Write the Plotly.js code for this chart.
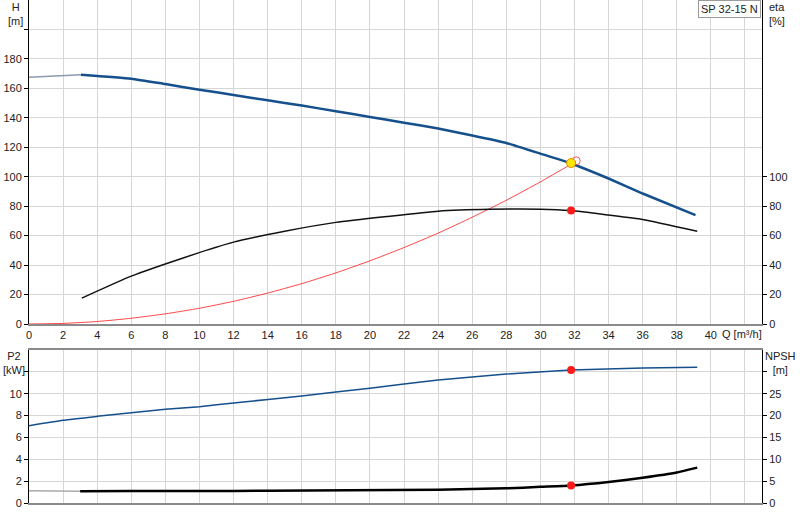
<!DOCTYPE html>
<html>
<head>
<meta charset="utf-8">
<script src="https://cdn.plot.ly/plotly-3.0.1.min.js"></script>
<style>html,body{margin:0;padding:0;background:#fff;}#chart{width:800px;height:520px;}</style>
</head>
<body>
<div id="chart"></div>
<script>
// ---- data ----
const qHead = [0, 3.05, 6, 8, 10, 12, 14, 16, 18, 20, 22, 24, 26, 28, 30, 31.8, 34, 36, 39.1];
const head  = [167.5, 169.3, 166.6, 162.9, 159.1, 155.5, 151.9, 148.3, 144.5, 140.6, 136.7, 132.7, 128, 122.9, 115.7, 109, 98.8, 88.6, 73.9];

const qEta = [3.1, 6, 9, 12, 15, 18, 21, 24, 27, 30, 31.8, 34, 36, 39.2];
const eta  = [17.6, 32.5, 44.7, 55.6, 63, 69, 73, 76.6, 77.9, 78, 77, 74, 71, 63];

const qSys = [0, 2, 4, 6, 8, 10, 12, 14, 16, 18, 20, 22, 24, 26, 28, 30, 32.1];
const sysH = [0, 0.4, 1.7, 3.9, 6.9, 10.7, 15.4, 21, 27.4, 34.7, 42.9, 51.9, 61.7, 72.5, 84, 96.5, 110.5];

const qP2 = [0, 2, 4, 6, 8, 10, 12, 16, 20, 24, 28, 31.8, 36, 39.2];
const p2  = [7.07, 7.57, 7.93, 8.26, 8.57, 8.81, 9.15, 9.8, 10.5, 11.25, 11.8, 12.17, 12.35, 12.42];

const qNpsh = [3, 6, 10, 14, 18.8, 24, 28, 30, 31.8, 34, 36, 38, 39.2];
const npsh  = [2.7, 2.72, 2.75, 2.8, 2.9, 3.05, 3.35, 3.7, 4.0, 4.8, 5.8, 7.0, 8.1];

const dutyQ = 31.8, dutyH = 109.3, dutyEta = 77, dutyP2 = 12.17, dutyNpsh = 4.0;
const reqQ = 32.1, reqH = 110.8;

const xTicks = [0,2,4,6,8,10,12,14,16,18,20,22,24,26,28,30,32,34,36,38,40,42];
const xTickText = ["0","2","4","6","8","10","12","14","16","18","20","22","24","26","28","30","32","34","36","38","40",""];
const hTicks = [0,20,40,60,80,100,120,140,160,180,200];
const hTickText = ["0","20","40","60","80","100","120","140","160","180",""];
const etaTicks = [0,20,40,60,80,100];
const p2Ticks = [0,2,4,6,8,10,12];
const p2TickText = ["0","2","4","6","8","10",""];
const npshTicks = [0,5,10,15,20,25,30];
const npshTickText = ["0","5","10","15","20","25",""];

// ---- geometry helpers (pixel -> paper) ----
const W = 800, H = 520, L = 29, R = 762, T = 0, B = 503;
const px = p => (p - L) / (R - L);
const py = p => (B - p) / (B - T);

const blue = '#154f8c';
const FONT = 'Liberation Sans, Arial, sans-serif';
const SM = 0.5;

const traces = [
  {x: qHead.slice(0,2), y: head.slice(0,2), xaxis:'x', yaxis:'y', mode:'lines',
   line:{color:'#8a9bb0', width:1.5}, hoverinfo:'skip'},
  {x: qHead.slice(1), y: head.slice(1), xaxis:'x', yaxis:'y', mode:'lines',
   line:{color: blue, width:2.5, shape:'spline', smoothing:SM}},
  {x: qSys, y: sysH, xaxis:'x', yaxis:'y', mode:'lines',
   line:{color:'rgba(255,40,40,0.85)', width:1, shape:'spline', smoothing:SM}},
  {x: qEta, y: eta, xaxis:'x', yaxis:'y2', mode:'lines',
   line:{color:'#111', width:1.5, shape:'spline', smoothing:SM}},
  {x: [reqQ], y: [reqH], xaxis:'x', yaxis:'y', mode:'markers',
   marker:{size:8, color:'rgba(255,255,255,0)', line:{color:'#ff5050', width:1}}},
  {x: [dutyQ], y: [dutyH], xaxis:'x', yaxis:'y', mode:'markers',
   marker:{size:9, color:'#ffe600', line:{color:'#e08a00', width:1}}},
  {x: [dutyQ], y: [dutyEta], xaxis:'x', yaxis:'y2', mode:'markers',
   marker:{size:8, color:'#ff1a1a'}},
  {x: qP2, y: p2, xaxis:'x2', yaxis:'y3', mode:'lines',
   line:{color: blue, width:1.5, shape:'spline', smoothing:SM}},
  {x: [dutyQ], y: [dutyP2], xaxis:'x2', yaxis:'y3', mode:'markers',
   marker:{size:8, color:'#ff1a1a'}},
  {x: [0, 3], y: [2.8, 2.7], xaxis:'x2', yaxis:'y4', mode:'lines',
   line:{color:'#aaaaaa', width:1.5}},
  {x: qNpsh, y: npsh, xaxis:'x2', yaxis:'y4', mode:'lines',
   line:{color:'#000', width:2.5, shape:'spline', smoothing:SM}},
  {x: [dutyQ], y: [dutyNpsh], xaxis:'x2', yaxis:'y4', mode:'markers',
   marker:{size:8, color:'#ff1a1a'}}
];

const grid = '#d6d6d6';
const tickFont = {family: FONT, size: 11, color: '#222'};

const layout = {
  width: W, height: H,
  margin: {l: L, r: W - R, t: T, b: H - B, pad: 0},
  paper_bgcolor: '#fff', plot_bgcolor: '#fff',
  showlegend: false,
  font: {family: FONT, size: 11, color: '#222'},
  xaxis: {domain:[0,1], anchor:'y', range:[0,43], tickmode:'array', tickvals:xTicks, ticktext:xTickText,
          showgrid:true, gridcolor:grid, gridwidth:1, zeroline:false, showline:true, linecolor:'#8a8a8a', linewidth:2,
          ticks:'', tickfont:tickFont, fixedrange:true},
  yaxis: {domain:[py(324), 1], anchor:'x', range:[0,220], tickmode:'array', tickvals:hTicks, ticktext:hTickText,
          showgrid:true, gridcolor:grid, gridwidth:1, zeroline:false, showline:true, linecolor:'#000', linewidth:1,
          ticks:'outside', ticklen:4, tickcolor:'#000', tickfont:tickFont},
  yaxis2: {overlaying:'y', side:'right', anchor:'x', range:[0,220], tickmode:'array', tickvals:etaTicks,
          showgrid:false, zeroline:false, showline:true, linecolor:'#000', linewidth:1,
          ticks:'outside', ticklen:4, tickcolor:'#000', tickfont:tickFont},
  xaxis2: {domain:[0,1], anchor:'y3', range:[0,43], tickmode:'array', tickvals:xTicks,
          showticklabels:false, showgrid:true, gridcolor:grid, gridwidth:1, zeroline:false,
          showline:true, linecolor:'#8a8a8a', linewidth:2, mirror:true, ticks:''},
  yaxis3: {domain:[0, py(350)], anchor:'x2', range:[0,14], tickmode:'array', tickvals:p2Ticks, ticktext:p2TickText,
          showgrid:true, gridcolor:grid, gridwidth:1, zeroline:false, showline:true, linecolor:'#000', linewidth:1,
          ticks:'outside', ticklen:4, tickcolor:'#000', tickfont:tickFont},
  yaxis4: {overlaying:'y3', side:'right', anchor:'x2', range:[0,35], tickmode:'array', tickvals:npshTicks, ticktext:npshTickText,
          showgrid:false, zeroline:false, showline:true, linecolor:'#000', linewidth:1,
          ticks:'outside', ticklen:4, tickcolor:'#000', tickfont:tickFont},
  annotations: [
    {xref:'paper', yref:'paper', x:px(15), y:py(-1), xanchor:'center', yanchor:'top', showarrow:false,
     text:'H<br>[m]', align:'center', font:{family:FONT, size:11, color:'#222'}},
    {xref:'paper', yref:'paper', x:px(767), y:py(-1), xanchor:'left', yanchor:'top', showarrow:false,
     text:'eta<br>[%]', align:'left', font:{family:FONT, size:11, color:'#222'}},
    {xref:'paper', yref:'paper', x:px(761), y:py(0), xanchor:'right', yanchor:'top', showarrow:false,
     text:'SP 32-15 N', bgcolor:'#fff', bordercolor:'#9a9a9a', borderwidth:1, borderpad:2,
     font:{family:FONT, size:11, color:'#222'}},
    {xref:'paper', yref:'paper', x:px(720), y:py(334), xanchor:'left', yanchor:'middle', showarrow:false,
     text:'Q [m³/h]', font:{family:FONT, size:11, color:'#222'}},
    {xref:'paper', yref:'paper', x:px(14), y:py(348), xanchor:'center', yanchor:'top', showarrow:false,
     text:'P2<br>[kW]', align:'center', font:{family:FONT, size:11, color:'#222'}},
    {xref:'paper', yref:'paper', x:px(780), y:py(348), xanchor:'center', yanchor:'top', showarrow:false,
     text:'NPSH<br>[m]', align:'center', font:{family:FONT, size:11, color:'#222'}}
  ]
};

Plotly.newPlot('chart', traces, layout, {displayModeBar:false, staticPlot:true});
</script>
</body>
</html>
